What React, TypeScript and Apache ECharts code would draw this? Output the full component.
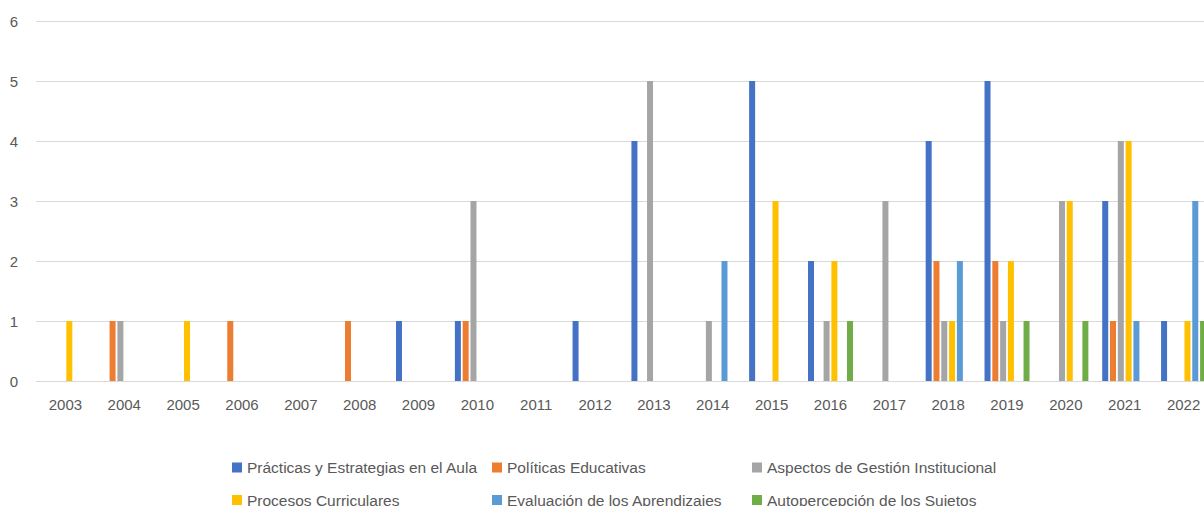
import React, { useEffect, useRef } from "react";
import * as echarts from "echarts";

const years = [
  "2003", "2004", "2005", "2006", "2007", "2008", "2009", "2010", "2011", "2012",
  "2013", "2014", "2015", "2016", "2017", "2018", "2019", "2020", "2021", "2022",
];

const practicas = [0, 0, 0, 0, 0, 0, 1, 1, 0, 1, 4, 0, 5, 2, 0, 4, 5, 0, 3, 1];
const politicas = [0, 1, 0, 1, 0, 1, 0, 1, 0, 0, 0, 0, 0, 0, 0, 2, 2, 0, 1, 0];
const aspectos = [0, 1, 0, 0, 0, 0, 0, 3, 0, 0, 5, 1, 0, 1, 3, 1, 1, 3, 4, 0];
const procesos = [1, 0, 1, 0, 0, 0, 0, 0, 0, 0, 0, 0, 3, 2, 0, 1, 2, 3, 4, 1];
const evaluacion = [0, 0, 0, 0, 0, 0, 0, 0, 0, 0, 0, 2, 0, 0, 0, 2, 0, 0, 1, 3];
const autopercepcion = [0, 0, 0, 0, 0, 0, 0, 0, 0, 0, 0, 0, 0, 1, 0, 0, 1, 1, 0, 1];

const seriesNames = [
  "Prácticas y Estrategias en el Aula",
  "Políticas Educativas",
  "Aspectos de Gestión Institucional",
  "Procesos Curriculares",
  "Evaluación de los Aprendizajes",
  "Autopercepción de los Sujetos",
];
const seriesData = [practicas, politicas, aspectos, procesos, evaluacion, autopercepcion];
const colors = ["#4472C4", "#ED7D31", "#A5A5A5", "#FFC000", "#5B9BD5", "#70AD47"];

const FONT = "'Liberation Sans', Arial, sans-serif";
const TEXT = "#595959";

export default function App() {
  const ref = useRef<HTMLDivElement>(null);

  useEffect(() => {
    if (!ref.current) return;
    const chart = echarts.init(ref.current, null, { renderer: "svg" });
    const legendBase = {
      orient: "vertical" as const,
      top: 459.5,
      padding: 0,
      itemWidth: 10,
      itemHeight: 10,
      itemGap: 16.5,
      icon: "rect",
      textStyle: { color: TEXT, fontSize: 15.5, fontFamily: FONT, lineHeight: 16 },
    };
    chart.setOption({
      animation: false,
      color: colors,
      textStyle: { fontFamily: FONT },
      grid: { left: 36, top: 21, width: 1177, height: 360, containLabel: false },
      legend: [
        { ...legendBase, left: 232, data: [seriesNames[0], seriesNames[3]] },
        { ...legendBase, left: 492, data: [seriesNames[1], seriesNames[4]] },
        { ...legendBase, left: 752, data: [seriesNames[2], seriesNames[5]] },
      ],
      xAxis: {
        type: "category",
        data: years,
        axisLine: { lineStyle: { color: "#d9d9d9", width: 1 } },
        axisTick: { show: false },
        axisLabel: { color: TEXT, fontSize: 15, fontFamily: FONT, margin: 16, interval: 0 },
      },
      yAxis: {
        type: "value",
        min: 0,
        max: 6,
        interval: 1,
        axisLine: { show: false },
        axisTick: { show: false },
        splitLine: { lineStyle: { color: "#d9d9d9", width: 1 } },
        axisLabel: { color: TEXT, fontSize: 15, fontFamily: FONT, margin: 18 },
      },
      series: seriesNames.map((name, i) => ({
        name,
        type: "bar",
        data: seriesData[i],
        barWidth: 6,
        barGap: "30%",
        itemStyle: { color: colors[i] },
      })),
    });
    return () => chart.dispose();
  }, []);

  return (
    <div
      style={{
        position: "fixed",
        left: 0,
        top: 0,
        width: 1204,
        height: 506,
        overflow: "hidden",
        background: "#fff",
      }}
    >
      <div ref={ref} style={{ width: 1240, height: 520 }} />
    </div>
  );
}
